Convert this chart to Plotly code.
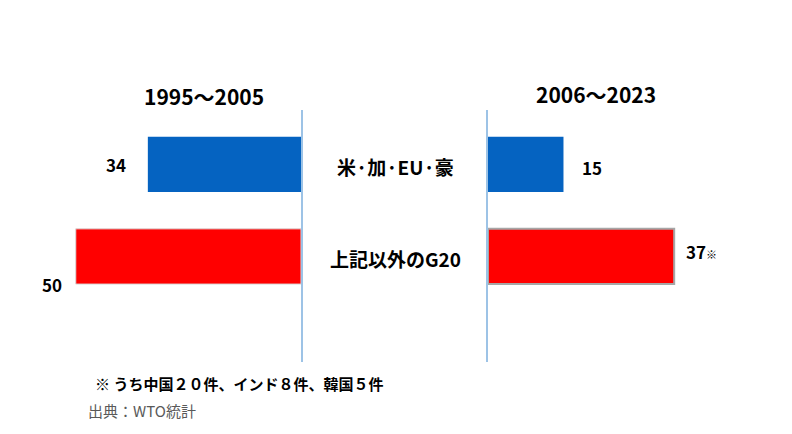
import plotly.graph_objects as go

categories = ["米·加·EU·豪", "上記以外のG20"]
period_titles = ["1995～2005", "2006～2023"]
values_1995_2005 = [34, 50]
values_2006_2023 = [15, 37]
value_labels_2006_2023 = ["15", "37<span style='font-size:11px'>※</span>"]
bar_colors = ["#0563C1", "#FF0000"]
footnote = "※ うち中国２０件、インド８件、韓国５件"
source = "出典：WTO統計"

W, H = 792, 434
OFF = 8  # page body margin
FONT = "Noto Sans CJK JP, Noto Sans, sans-serif"

def px_x(p):
    return (p - OFF) / W

def px_y(p):
    return 1 - (p - OFF) / H

fig = go.Figure()

fig.add_trace(go.Bar(
    x=values_1995_2005, y=categories, orientation="h",
    marker=dict(color=bar_colors, line=dict(color=["rgba(0,0,0,0)", "#d9d9d9"], width=1)),
    width=0.6, xaxis="x", yaxis="y", hoverinfo="skip", showlegend=False,
))
fig.add_trace(go.Bar(
    x=values_2006_2023, y=categories, orientation="h",
    marker=dict(color=bar_colors, line=dict(color=["rgba(0,0,0,0)", "#a6a6a6"], width=2)),
    width=0.6, xaxis="x2", yaxis="y2", hoverinfo="skip", showlegend=False,
))

ydom = [px_y(362), px_y(110)]
yrange = [2.147, -0.592]

bold = lambda s: dict(size=s, family=FONT, color="black", weight="bold")

annotations = []
# value labels, left panel
annotations.append(dict(x=values_1995_2005[0], y=categories[0], xref="x", yref="y",
                        text=str(values_1995_2005[0]), showarrow=False, xanchor="right",
                        xshift=-20, font=bold(17)))
annotations.append(dict(x=values_1995_2005[1], y=categories[1], xref="x", yref="y",
                        text=str(values_1995_2005[1]), showarrow=False, xanchor="right",
                        xshift=-12, yshift=-28, font=bold(17)))
# value labels, right panel
annotations.append(dict(x=values_2006_2023[0], y=categories[0], xref="x2", yref="y2",
                        text=value_labels_2006_2023[0], showarrow=False, xanchor="left",
                        xshift=17, yshift=-3, font=bold(17)))
annotations.append(dict(x=values_2006_2023[1], y=categories[1], xref="x2", yref="y2",
                        text=value_labels_2006_2023[1], showarrow=False, xanchor="left",
                        xshift=10, yshift=5, font=bold(17)))
# category labels
for c in categories:
    annotations.append(dict(x=px_x(395), y=c, xref="paper", yref="y", text=c, showarrow=False,
                            xanchor="center", yshift=-2, font=bold(19)))
# period titles
annotations.append(dict(x=px_x(204), y=px_y(96), xref="paper", yref="paper", text=period_titles[0],
                        showarrow=False, xanchor="center", yanchor="middle", font=bold(21)))
annotations.append(dict(x=px_x(596), y=px_y(94), xref="paper", yref="paper", text=period_titles[1],
                        showarrow=False, xanchor="center", yanchor="middle", font=bold(21)))
# footnotes
annotations.append(dict(x=px_x(93), y=px_y(383), xref="paper", yref="paper", text=footnote,
                        showarrow=False, xanchor="left", yanchor="middle", font=bold(15)))
annotations.append(dict(x=px_x(86), y=px_y(410), xref="paper", yref="paper", text=source,
                        showarrow=False, xanchor="left", yanchor="middle",
                        font=dict(size=15, family=FONT, color="#595959")))

fig.update_layout(
    width=W, height=H, margin=dict(l=0, r=0, t=0, b=0),
    paper_bgcolor="white", plot_bgcolor="rgba(0,0,0,0)",
    xaxis=dict(domain=[px_x(60), px_x(301)], range=[53.5, 0], visible=False, fixedrange=True),
    xaxis2=dict(domain=[px_x(488), px_x(722)], range=[0, 46.5], visible=False, fixedrange=True),
    yaxis=dict(domain=ydom, range=yrange, anchor="x", side="right", showline=True,
               linecolor="#9DC3E6", linewidth=2, showticklabels=False, ticks="",
               showgrid=False, zeroline=False, type="category"),
    yaxis2=dict(domain=ydom, range=yrange, anchor="x2", side="left", showline=True,
                linecolor="#9DC3E6", linewidth=2, showticklabels=False, ticks="",
                showgrid=False, zeroline=False, type="category"),
    annotations=annotations,
)

fig.write_html("out.html")
